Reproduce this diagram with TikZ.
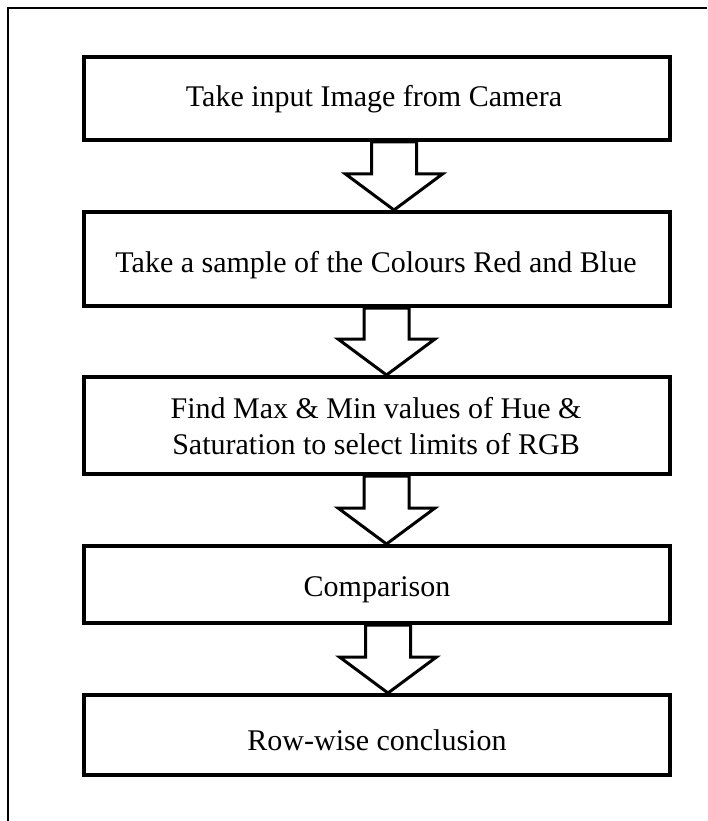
\documentclass[tikz,border=0pt]{standalone}
\usepackage{fontspec}
\setmainfont{Liberation Serif}
\usetikzlibrary{calc}
\tikzset{
  stepbox/.style={draw=black, line width=4pt, fill=white, inner sep=0pt,
    minimum width=586pt},
  steptext/.style={inner sep=0pt, align=center, font=\fontsize{30}{36}\selectfont},
  blockarr/.style={draw=black, line width=3pt, fill=white, line join=miter},
  frameline/.style={draw=black, line width=1.6pt}
}
\newcommand\blockarrow[3]{%
  \draw[blockarr] ($(#1.south)+(#3-22.5,0)$) -- ($(#2.north)+(#3-22.5,-36)$)
    -- ($(#2.north)+(#3-48.5,-36)$) -- ($(#2.north)+(#3,0)$)
    -- ($(#2.north)+(#3+48.5,-36)$) -- ($(#2.north)+(#3+22.5,-36)$)
    -- ($(#1.south)+(#3+22.5,0)$) -- cycle;}
\begin{document}
\begin{tikzpicture}[x=1pt,y=-1pt]
\useasboundingbox[fill=white] (0,0) rectangle (707,821);
\coordinate (fa) at (8,821);
\coordinate (fb) at (8,8);
\coordinate (fc) at (707,8);
\draw[frameline] (fa) -- (fb) -- (fc);
\node[stepbox, minimum height=83pt] (b1) at (377,98.5) {};
\node[stepbox, minimum height=94pt] (b2) at (377,259) {};
\node[stepbox, minimum height=97pt] (b3) at (377,425.5) {};
\node[stepbox, minimum height=77pt] (b4) at (377,584.5) {};
\node[stepbox, minimum height=80pt] (b5) at (377,735) {};
\node[steptext] (t1) at (374,99) {Take input Image from Camera};
\node[steptext] (t2) at (376,265) {Take a sample of the Colours Red and Blue};
\node[steptext] (t3) at (376,426) {Find Max \& Min values of Hue \&\\Saturation to select limits of RGB};
\node[steptext] (t4) at (377,590) {Comparison};
\node[steptext] (t5) at (377,740) {Row-wise conclusion};
\blockarrow{b1}{b2}{17}
\blockarrow{b2}{b3}{9.5}
\blockarrow{b3}{b4}{9.5}
\blockarrow{b4}{b5}{11}
\end{tikzpicture}
\end{document}
